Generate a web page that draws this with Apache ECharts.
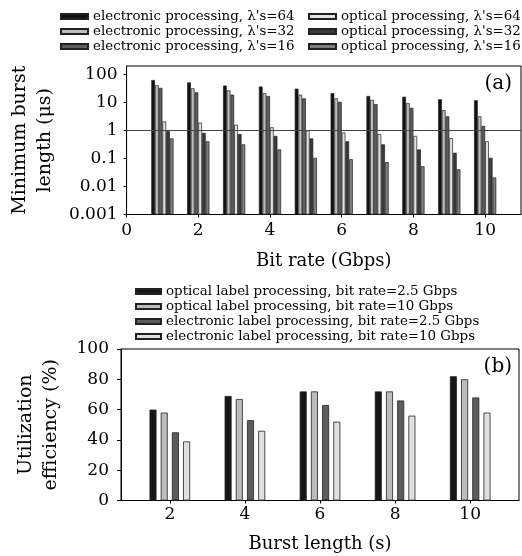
<!DOCTYPE html>
<html>
<head>
<meta charset="utf-8">
<script src="https://cdn.jsdelivr.net/npm/echarts@6/dist/echarts.min.js"></script>
<style>
  html, body { margin: 0; padding: 0; background: #fff; }
  #chart { width: 522px; height: 556px; }
</style>
</head>
<body>
<div id="chart"></div>
<script>
// (a) minimum burst length vs bit rate, log scale
var bitRates = [1, 2, 3, 4, 5, 6, 7, 8, 9, 10];
var elec64 = [63, 52, 40, 37, 31, 21.5, 17, 16, 13, 12];
var elec32 = [41, 32, 27, 21.5, 19, 14, 12.4, 9.4, 5.3, 3.2];
var elec16 = [33, 23, 19, 17, 14, 10.5, 8.7, 6.4, 3.2, 1.45];
var opt64 = [2.1, 1.9, 1.6, 1.3, 1.0, 0.85, 0.74, 0.64, 0.53, 0.41];
var opt32 = [0.95, 0.82, 0.74, 0.64, 0.52, 0.41, 0.32, 0.21, 0.16, 0.105];
var opt16 = [0.52, 0.41, 0.32, 0.21, 0.105, 0.094, 0.074, 0.053, 0.041, 0.021];
var aTicksX = [0, 2, 4, 6, 8, 10];
var aTicksY = [0.001, 0.01, 0.1, 1, 10, 100];

// (b) utilization efficiency vs burst length
var burstLengths = [2, 4, 6, 8, 10];
var optLow = [60, 69, 72, 72, 82];
var optHigh = [58, 67, 72, 72, 80];
var elecLow = [45, 53, 63, 66, 68];
var elecHigh = [39, 46, 52, 56, 58];
var bTicksX = [2, 4, 6, 8, 10];

var namesA = ['electronic processing, λ\'s=64', 'electronic processing, λ\'s=32', 'electronic processing, λ\'s=16',
              'optical processing, λ\'s=64', 'optical processing, λ\'s=32', 'optical processing, λ\'s=16'];
var valuesA = [elec64, elec32, elec16, opt64, opt32, opt16];
var colorsA = ['#111111', '#bdbdbd', '#5e5e5e', '#e2e2e2', '#3a3a3a', '#7e7e7e'];

var namesB = ['optical label processing, bit rate=2.5 Gbps', 'optical label processing, bit rate=10 Gbps',
              'electronic label processing, bit rate=2.5 Gbps', 'electronic label processing, bit rate=10 Gbps'];
var valuesB = [optLow, optHigh, elecLow, elecHigh];
var colorsB = ['#161616', '#bcbcbd', '#5c5c5c', '#e0e0e0'];

var font = 'DejaVu Serif';

function pairs(xs, ys) {
  return xs.map(function (x, i) { return [x, ys[i]]; });
}

var series = [];
namesA.forEach(function (n, i) {
  var s = {
    name: n, type: 'bar', xAxisIndex: 0, yAxisIndex: 0,
    data: pairs(bitRates, valuesA[i]),
    barWidth: 3.7, barGap: '0%',
    itemStyle: { color: colorsA[i], borderColor: '#222', borderWidth: 0.7 }
  };
  if (i === 0) {
    // reference line at 1 us
    s.markLine = {
      silent: true, symbol: 'none', label: { show: false },
      lineStyle: { color: '#444', width: 1, type: 'solid' },
      data: [{ yAxis: 1 }]
    };
  }
  series.push(s);
});
namesB.forEach(function (n, i) {
  series.push({
    name: n, type: 'bar', xAxisIndex: 1, yAxisIndex: 1,
    data: pairs(burstLengths, valuesB[i]),
    barWidth: 7, barGap: '60%',
    itemStyle: { color: colorsB[i], borderColor: '#222', borderWidth: 0.8 }
  });
});

var tickLabel = { fontFamily: font, fontSize: 17, color: '#000' };
var legendText = { fontFamily: font, fontSize: 13.4, color: '#000', lineHeight: 15 };

var chart = echarts.init(document.getElementById('chart'));
chart.setOption({
  animation: false,
  backgroundColor: '#fff',
  textStyle: { fontFamily: font },
  legend: [
    { orient: 'vertical', left: 60, top: 9, itemGap: 0, itemWidth: 27, itemHeight: 5, icon: 'rect',
      data: namesA.slice(0, 3), textStyle: legendText, padding: 0 },
    { orient: 'vertical', left: 308, top: 9, itemGap: 0, itemWidth: 27, itemHeight: 5, icon: 'rect',
      data: namesA.slice(3), textStyle: legendText, padding: 0 },
    { orient: 'vertical', left: 135, top: 284, itemGap: 0, itemWidth: 25, itemHeight: 5, icon: 'rect',
      data: namesB, textStyle: legendText, padding: 0 }
  ],
  grid: [
    { left: 122, right: 1, top: 66, height: 148.5, show: true, borderColor: '#000', borderWidth: 1 },
    { left: 121, right: 3, top: 349, height: 151.5, show: true, borderColor: '#000', borderWidth: 1 }
  ],
  xAxis: [
    { type: 'value', gridIndex: 0, min: 0, max: 11,
      name: 'Bit rate (Gbps)', nameLocation: 'middle', nameGap: 38,
      nameTextStyle: { fontFamily: font, fontSize: 18, color: '#000' },
      axisLine: { lineStyle: { color: '#000', width: 1 } },
      axisTick: { show: true, length: 3, customValues: aTicksX, lineStyle: { color: '#000' } },
      axisLabel: Object.assign({ margin: 8, customValues: aTicksX }, tickLabel),
      splitLine: { show: false } },
    { type: 'value', gridIndex: 1, min: 0.7, max: 11.3,
      name: 'Burst length (s)', nameLocation: 'middle', nameGap: 35,
      nameTextStyle: { fontFamily: font, fontSize: 18, color: '#000' },
      axisLine: { lineStyle: { color: '#000', width: 1 } },
      axisTick: { show: true, length: 3, customValues: bTicksX, lineStyle: { color: '#000' } },
      axisLabel: Object.assign({ margin: 6, customValues: bTicksX }, tickLabel),
      splitLine: { show: false } }
  ],
  yAxis: [
    { type: 'log', gridIndex: 0, min: 0.001, max: 200, startValue: 0.001,
      name: 'Minimum burst\nlength (μs)', nameLocation: 'middle', nameGap: 57,
      nameTextStyle: { fontFamily: font, fontSize: 19, color: '#000', lineHeight: 25 },
      axisLine: { show: true, lineStyle: { color: '#000', width: 1 } },
      axisTick: { show: true, length: 3, customValues: aTicksY, lineStyle: { color: '#000' } },
      axisLabel: Object.assign({ margin: 9, customValues: aTicksY,
        formatter: function (v) { return String(v); } }, tickLabel),
      splitLine: { show: false } },
    { type: 'value', gridIndex: 1, min: 0, max: 100, interval: 20,
      name: 'Utilization\nefficiency (%)', nameLocation: 'middle', nameGap: 57,
      nameTextStyle: { fontFamily: font, fontSize: 19, color: '#000', lineHeight: 25 },
      axisLine: { show: true, lineStyle: { color: '#000', width: 1 } },
      axisTick: { show: true, length: 4, lineStyle: { color: '#000' } },
      axisLabel: Object.assign({ margin: 12 }, tickLabel),
      splitLine: { show: false } }
  ],
  graphic: [
    { type: 'text', right: 10, top: 74, style: { text: '(a)', font: '20px "DejaVu Serif"', fill: '#000' } },
    { type: 'text', right: 10, top: 357, style: { text: '(b)', font: '20px "DejaVu Serif"', fill: '#000' } }
  ],
  series: series
});
</script>
</body>
</html>
